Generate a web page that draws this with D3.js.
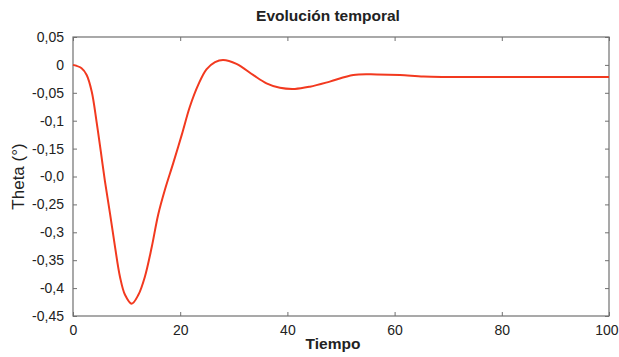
<!DOCTYPE html>
<html>
<head>
<meta charset="utf-8">
<script src="https://d3js.org/d3.v7.min.js"></script>
<style>
  body { margin: 0; background: #fff; }
  svg { font-family: "Liberation Sans", Arial, Helvetica, sans-serif; }
</style>
</head>
<body>
<div id="chart"></div>
<script>
// tiempo (x) and theta (y)
var tiempo = [0, 1.6, 2.55, 3.5, 4.4, 5.2, 5.97, 6.9, 7.84, 8.77, 9.7, 10.95, 12.2, 13.4, 14.7, 15.9,
  17.2, 18.7, 20.3, 21.8, 23.4, 24.9, 26.5, 28.0, 30.5, 33.6, 36.1, 38.6, 41.4, 44.2, 47.9,
  52.3, 56.7, 61, 65.4, 70.3, 80, 90, 100];
var theta = [0, -0.006, -0.018, -0.048, -0.102, -0.156, -0.209, -0.266, -0.326, -0.380, -0.412, -0.428, -0.412, -0.380, -0.326, -0.268,
  -0.222, -0.176, -0.125, -0.075, -0.035, -0.008, 0.005, 0.009, 0.002, -0.018, -0.033, -0.041, -0.043, -0.039, -0.030,
  -0.018, -0.017, -0.018, -0.021, -0.0215, -0.0215, -0.0215, -0.0215];

var xTicks = [0, 20, 40, 60, 80, 100];
var yTicks = [0.05, 0, -0.05, -0.1, -0.15, -0.2, -0.25, -0.3, -0.35, -0.4, -0.45];
var yTickLabels = ["0,05", "0", "-0,05", "-0,1", "-0,15", "-0,0", "-0,25", "-0,3", "-0,35", "-0,4", "-0,45"];

var width = 619, height = 357;
var margin = { top: 37, right: 10, bottom: 41, left: 73 };
var w = width - margin.left - margin.right,
    h = height - margin.top - margin.bottom;

var svg = d3.select("#chart").append("svg")
  .attr("width", width)
  .attr("height", height);

var g = svg.append("g")
  .attr("transform", "translate(" + margin.left + "," + margin.top + ")");

var x = d3.scaleLinear().domain([0, 100]).range([0, w]);
var y = d3.scaleLinear().domain([-0.45, 0.05]).range([h, 0]);

// axes with inward ticks
var axisColor = "#707070";
function styleAxis(sel) {
  sel.select(".domain").remove();
  sel.selectAll("line").attr("stroke", axisColor);
  sel.selectAll("text").attr("fill", "#222").style("font-size", "14px");
}

var xAxis = g.append("g")
  .attr("transform", "translate(0," + h + ")")
  .call(d3.axisBottom(x).tickValues(xTicks).tickSize(-4).tickPadding(9).tickFormat(d3.format("d")))
  .call(styleAxis);
// last label sits against the page edge
xAxis.selectAll("text").filter(function (d) { return d === 100; })
  .attr("text-anchor", "end").attr("dx", "9");

g.append("g")
  .call(d3.axisTop(x).tickValues(xTicks).tickSize(-4).tickFormat(""))
  .call(styleAxis);

g.append("g")
  .call(d3.axisLeft(y).tickValues(yTicks).tickSize(-4).tickPadding(9)
    .tickFormat(function (d, i) { return yTickLabels[i]; }))
  .call(styleAxis);

g.append("g")
  .attr("transform", "translate(" + w + ",0)")
  .call(d3.axisRight(y).tickValues(yTicks).tickSize(-4).tickFormat(""))
  .call(styleAxis);

// frame
g.append("rect")
  .attr("width", w)
  .attr("height", h)
  .attr("fill", "none")
  .attr("stroke", axisColor)
  .attr("stroke-width", 1.2);

// curve
var pts = tiempo.map(function (t, i) { return [t, theta[i]]; });
var line = d3.line()
  .x(function (d) { return x(d[0]); })
  .y(function (d) { return y(d[1]); })
  .curve(d3.curveCatmullRom.alpha(0.5));

g.append("path")
  .datum(pts)
  .attr("fill", "none")
  .attr("stroke", "#f2391f")
  .attr("stroke-width", 2)
  .attr("d", line);

// title and labels
svg.append("text")
  .attr("x", 328)
  .attr("y", 21)
  .attr("text-anchor", "middle")
  .style("font-size", "15.5px")
  .style("font-weight", "bold")
  .attr("fill", "#222")
  .text("Evolución temporal");

svg.append("text")
  .attr("x", 333)
  .attr("y", 349)
  .attr("text-anchor", "middle")
  .style("font-size", "15.5px")
  .style("font-weight", "bold")
  .attr("fill", "#222")
  .text("Tiempo");

svg.append("text")
  .attr("transform", "translate(24," + (margin.top + h / 2) + ") rotate(-90)")
  .attr("text-anchor", "middle")
  .style("font-size", "17px")
  .attr("fill", "#222")
  .text("Theta (°)");
</script>
</body>
</html>
